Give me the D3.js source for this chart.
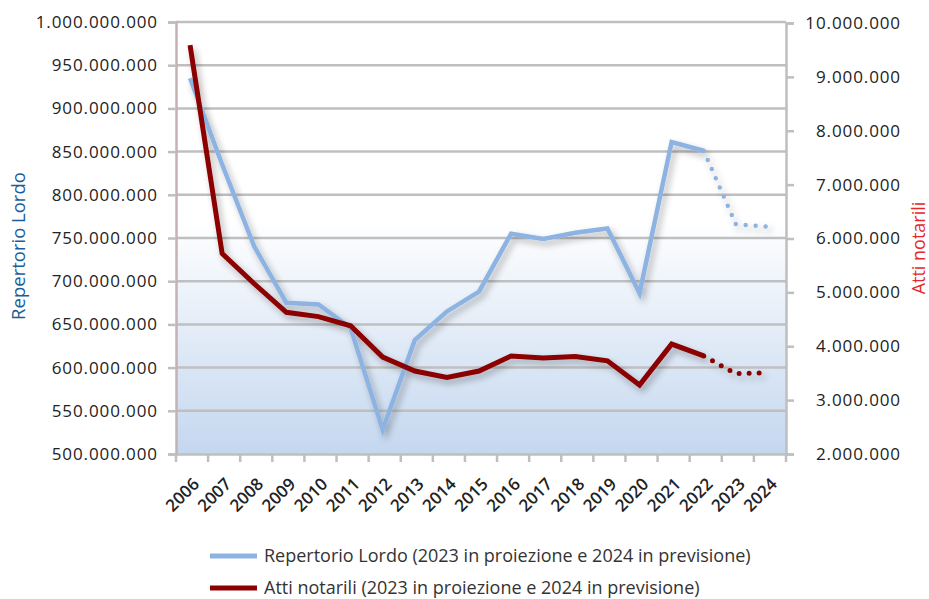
<!DOCTYPE html>
<html>
<head>
<meta charset="utf-8">
<script src="https://cdn.jsdelivr.net/npm/d3@7"></script>
<style>
  body { margin: 0; background: #fff; }
  text { font-family: "Open Sans", "Noto Sans", sans-serif; }
</style>
</head>
<body>
<div id="chart"></div>
<script>
// DATA //
const years = ['2006','2007','2008','2009','2010','2011','2012','2013','2014','2015',
  '2016','2017','2018','2019','2020','2021','2022','2023','2024'];
const repertorioLordo = [935e6, 835e6, 740e6, 675e6, 673e6, 646e6, 528e6, 632e6, 665e6, 688e6,
  755e6, 749e6, 756e6, 761e6, 686e6, 861e6, 851e6, 766e6, 763e6];
const attiNotarili = [9.59e6, 5.72e6, 5.16e6, 4.63e6, 4.55e6, 4.38e6, 3.80e6, 3.54e6, 3.42e6, 3.54e6,
  3.82e6, 3.78e6, 3.81e6, 3.73e6, 3.28e6, 4.04e6, 3.82e6, 3.49e6, 3.51e6];
const leftTicks = d3.range(500e6, 1000e6 + 1, 50e6);
const rightTicks = d3.range(2e6, 10e6 + 1, 1e6);
const legendLabels = ['Repertorio Lordo (2023 in proiezione e 2024 in previsione)',
  'Atti notarili (2023 in proiezione e 2024 in previsione)'];
const lastActual = 16; // 2022, then projection

// SIZING //
const width = 929, height = 599;
const plot = {left: 176, right: 786, top: 22, bottom: 454};
const blue = '#8db3e2', red = '#8b0000', grid = '#bfbfbf';

const it = d3.formatLocale({decimal: ',', thousands: '.', grouping: [3], currency: ['€', '']});
const fmt = it.format(',d');

const svg = d3.select('#chart').append('svg')
  .attr('width', width).attr('height', height);

const defs = svg.append('defs');
const grad = defs.append('linearGradient').attr('id', 'bg')
  .attr('x1', 0).attr('y1', 0).attr('x2', 0).attr('y2', 1);
grad.append('stop').attr('offset', '0').attr('stop-color', '#ffffff');
grad.append('stop').attr('offset', '0.46').attr('stop-color', '#ffffff');
grad.append('stop').attr('offset', '1').attr('stop-color', '#c4d7ef');

const shadow = defs.append('filter').attr('id', 'shadow')
  .attr('x', '-20%').attr('y', '-20%').attr('width', '140%').attr('height', '140%');
shadow.append('feGaussianBlur').attr('in', 'SourceAlpha').attr('stdDeviation', 3.5).attr('result', 'b');
shadow.append('feOffset').attr('in', 'b').attr('dx', 3).attr('dy', 4).attr('result', 'o');
shadow.append('feComponentTransfer').attr('in', 'o').attr('result', 's')
  .append('feFuncA').attr('type', 'linear').attr('slope', 0.3);
const merge = shadow.append('feMerge');
merge.append('feMergeNode').attr('in', 's');
merge.append('feMergeNode').attr('in', 'SourceGraphic');

// SCALES //
const x = d3.scaleBand().domain(years).range([plot.left, plot.right]);
const yL = d3.scaleLinear().domain([500e6, 1000e6]).range([plot.bottom, plot.top]);
const yR = d3.scaleLinear().domain([2e6, 10e6]).range([plot.bottom, plot.top + 1]);
const cx = d => x(d) + x.bandwidth() / 2 - 2;

// BACKGROUND //
svg.append('rect')
  .attr('x', plot.left).attr('y', plot.top)
  .attr('width', plot.right - plot.left).attr('height', plot.bottom - plot.top)
  .attr('fill', 'url(#bg)');

// GRIDLINES //
svg.append('g').selectAll('line').data(leftTicks.slice(1)).join('line')
  .attr('x1', plot.left).attr('x2', plot.right)
  .attr('y1', d => yL(d)).attr('y2', d => yL(d))
  .attr('stroke', grid).attr('stroke-width', 2.5);

// LEFT AXIS //
const axL = svg.append('g').attr('transform', `translate(${plot.left},0)`)
  .call(d3.axisLeft(yL).tickValues(leftTicks).tickFormat(fmt).tickSize(8).tickPadding(10));
axL.select('.domain').attr('stroke', '#c4b2b4').attr('stroke-width', 2.5);
axL.selectAll('.tick line').attr('stroke', grid).attr('stroke-width', 2.5);
axL.selectAll('.tick text').attr('font-size', 17).attr('fill', '#222').attr('letter-spacing', 0.9);

// RIGHT AXIS //
const axR = svg.append('g').attr('transform', `translate(${plot.right},0)`)
  .call(d3.axisRight(yR).tickValues(rightTicks).tickFormat(fmt).tickSize(8).tickPadding(16));
axR.select('.domain').attr('stroke', grid).attr('stroke-width', 2.5);
axR.selectAll('.tick line').attr('stroke', grid).attr('stroke-width', 2.5);
axR.selectAll('.tick text').attr('font-size', 17).attr('fill', '#222').attr('letter-spacing', 0.9)
  .attr('text-anchor', 'end').attr('x', 115);

// BOTTOM AXIS //
const axB = svg.append('g').attr('transform', `translate(0,${plot.bottom})`)
  .call(d3.axisBottom(x).tickSize(0).tickPadding(0));
axB.select('.domain').attr('stroke', grid).attr('stroke-width', 2.5);
svg.append('g').selectAll('line').data(years.concat(['end'])).join('line')
  .attr('x1', (d, i) => plot.left + i * x.bandwidth()).attr('x2', (d, i) => plot.left + i * x.bandwidth())
  .attr('y1', plot.bottom).attr('y2', plot.bottom + 8)
  .attr('stroke', grid).attr('stroke-width', 2.5);
axB.selectAll('.tick text')
  .attr('font-size', 17).attr('font-weight', 600).attr('fill', '#222')
  .attr('text-anchor', 'end')
  .attr('transform', 'translate(4,27) rotate(-45)')
  .attr('dy', '0.35em');

// LINES //
const lineL = d3.line().x(d => cx(years[d])).y(d => yL(repertorioLordo[d]));
const lineR = d3.line().x(d => cx(years[d])).y(d => yR(attiNotarili[d]));
const solidIdx = d3.range(0, lastActual + 1);
const projIdx = d3.range(lastActual, years.length);

const lines = svg.append('g').attr('filter', 'url(#shadow)');
lines.append('path').attr('d', lineL(solidIdx))
  .attr('fill', 'none').attr('stroke', blue).attr('stroke-width', 4.5).attr('stroke-linejoin', 'miter');
lines.append('path').attr('d', lineL(projIdx))
  .attr('fill', 'none').attr('stroke', blue).attr('stroke-width', 4.5)
  .attr('stroke-linecap', 'round').attr('stroke-dasharray', '0 10');
lines.append('path').attr('d', lineR(solidIdx))
  .attr('fill', 'none').attr('stroke', red).attr('stroke-width', 5).attr('stroke-linejoin', 'miter');
lines.append('path').attr('d', lineR(projIdx))
  .attr('fill', 'none').attr('stroke', red).attr('stroke-width', 5)
  .attr('stroke-linecap', 'round').attr('stroke-dasharray', '0 10');

// AXIS TITLES //
svg.append('text')
  .attr('transform', 'translate(25,246) rotate(-90)')
  .attr('text-anchor', 'middle').attr('font-size', 18.5).attr('fill', '#1a5e97')
  .text('Repertorio Lordo');
svg.append('text')
  .attr('transform', 'translate(925,248) rotate(-90)')
  .attr('text-anchor', 'middle').attr('font-size', 18).attr('fill', '#e8262a')
  .text('Atti notarili');

// LEGEND //
const legend = svg.append('g');
[blue, red].forEach((c, i) => {
  const ly = 556 + i * 32;
  legend.append('line').attr('x1', 210).attr('x2', 257).attr('y1', ly).attr('y2', ly)
    .attr('stroke', c).attr('stroke-width', 5);
  legend.append('text').attr('x', 264).attr('y', ly).attr('dy', '0.35em')
    .attr('font-size', 18).attr('fill', '#333').text(legendLabels[i]);
});
</script>
</body>
</html>
